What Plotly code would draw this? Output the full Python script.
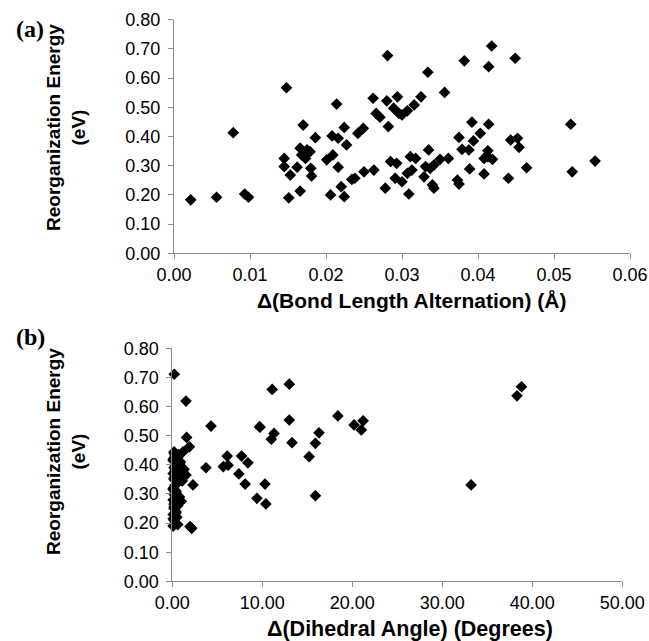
import plotly.graph_objects as go

# Panel (a): change in bond length alternation (Å) vs reorganization energy (eV)
bla_x = [0.0022, 0.0056, 0.0078, 0.0093, 0.0098, 0.0148, 0.0145, 0.0145, 0.0153, 0.0151,
         0.0162, 0.0166, 0.0166, 0.0175, 0.0179, 0.0168, 0.0173, 0.0170, 0.0180, 0.0181,
         0.0186, 0.0201, 0.0209, 0.0208, 0.0216, 0.0214, 0.0224, 0.0227, 0.0216, 0.0206,
         0.0220, 0.0224, 0.0234, 0.0238, 0.0242, 0.0249, 0.0250, 0.0263, 0.0262, 0.0266,
         0.0271, 0.0278, 0.0281, 0.0280, 0.0282, 0.0285, 0.0293, 0.0289, 0.0294, 0.0296,
         0.0300, 0.0307, 0.0291, 0.0300, 0.0309, 0.0307, 0.0313, 0.0311, 0.0318, 0.0316,
         0.0325, 0.0334, 0.0335, 0.0331, 0.0337, 0.0342, 0.0329, 0.0340, 0.0342, 0.0350,
         0.0361, 0.0356, 0.0382, 0.0418, 0.0414, 0.0449, 0.0392, 0.0414, 0.0522, 0.0375,
         0.0394, 0.0403, 0.0379, 0.0388, 0.0413, 0.0408, 0.0419, 0.0413, 0.0443, 0.0452,
         0.0454, 0.0373, 0.0375, 0.0389, 0.0408, 0.0440, 0.0464, 0.0524, 0.0554]
bla_y = [0.183, 0.192, 0.413, 0.203, 0.192, 0.567, 0.325, 0.297, 0.268, 0.190,
         0.295, 0.213, 0.360, 0.354, 0.348, 0.337, 0.325, 0.439, 0.291, 0.265,
         0.396, 0.320, 0.337, 0.402, 0.394, 0.511, 0.431, 0.371, 0.295, 0.200,
         0.228, 0.194, 0.253, 0.257, 0.411, 0.428, 0.279, 0.285, 0.531, 0.479,
         0.466, 0.223, 0.677, 0.522, 0.434, 0.314, 0.308, 0.497, 0.536, 0.479,
         0.474, 0.488, 0.257, 0.245, 0.203, 0.274, 0.285, 0.331, 0.325, 0.508,
         0.536, 0.620, 0.354, 0.297, 0.291, 0.302, 0.262, 0.234, 0.223, 0.322,
         0.325, 0.551, 0.659, 0.710, 0.639, 0.668, 0.449, 0.442, 0.442, 0.397,
         0.385, 0.411, 0.356, 0.354, 0.351, 0.325, 0.322, 0.331, 0.388, 0.394,
         0.363, 0.251, 0.237, 0.289, 0.272, 0.257, 0.293, 0.279, 0.316]

# Panel (b): change in dihedral angle (degrees) vs reorganization energy (eV)
dih_x = [0.22, 1.52, 1.59, 1.90, 1.20, 1.52, 2.30, 1.97, 2.16, 4.30,
         3.74, 6.10, 5.67, 6.20, 7.70, 8.40, 7.40, 8.10, 9.40, 9.70,
         13.0, 11.1, 13.0, 9.74, 11.3, 11.0, 13.3, 18.4, 21.2, 20.2,
         21.0, 16.3, 15.9, 15.2, 10.3, 10.4, 15.9, 33.2, 38.8, 38.3,
         0.10, 0.30, 0.20, 0.50, 0.10, 0.40, 0.20, 0.60, 0.30, 0.10,
         0.80, 0.20, 0.40, 0.10, 0.30, 0.50, 0.20, 0.70, 0.10, 0.30,
         0.20, 0.40, 0.90, 0.10, 0.30, 0.20, 0.60, 0.10, 0.40, 0.20,
         1.00, 0.30, 0.10, 0.50, 0.20, 1.20, 0.30, 0.10, 0.70, 0.20,
         1.10, 0.40, 0.80, 0.20, 1.30, 0.60]
dih_y = [0.711, 0.619, 0.494, 0.462, 0.445, 0.365, 0.331, 0.188, 0.182, 0.533,
         0.390, 0.430, 0.394, 0.399, 0.430, 0.407, 0.369, 0.334, 0.285, 0.531,
         0.677, 0.659, 0.554, 0.529, 0.508, 0.488, 0.476, 0.568, 0.551, 0.537,
         0.520, 0.510, 0.474, 0.428, 0.334, 0.266, 0.294, 0.331, 0.668, 0.637,
         0.190, 0.200, 0.210, 0.220, 0.230, 0.240, 0.250, 0.260, 0.270, 0.280,
         0.290, 0.300, 0.310, 0.320, 0.330, 0.340, 0.350, 0.360, 0.370, 0.380,
         0.390, 0.400, 0.410, 0.420, 0.430, 0.440, 0.195, 0.215, 0.235, 0.255,
         0.275, 0.295, 0.315, 0.335, 0.355, 0.375, 0.395, 0.415, 0.435, 0.445,
         0.345, 0.305, 0.405, 0.265, 0.385, 0.425]

y_ticks = [0.0, 0.1, 0.2, 0.3, 0.4, 0.5, 0.6, 0.7, 0.8]
xa_ticks = [0.0, 0.01, 0.02, 0.03, 0.04, 0.05, 0.06]
xb_ticks = [0, 10, 20, 30, 40, 50]

W, H = 649, 641


def px(x):
    return x / W


def py(y):
    return 1 - y / H


FONT = "Liberation Sans, Arial, sans-serif"
AXC = "#8c8c8c"

fig = go.Figure()
marker = dict(symbol="diamond", size=9, color="black", line=dict(width=0))
fig.add_trace(go.Scatter(x=bla_x, y=bla_y, mode="markers", marker=marker,
                         xaxis="x", yaxis="y", showlegend=False, cliponaxis=False))
fig.add_trace(go.Scatter(x=dih_x, y=dih_y, mode="markers", marker=marker,
                         xaxis="x2", yaxis="y2", showlegend=False, cliponaxis=False))

common = dict(showgrid=False, zeroline=False, showline=True, linecolor=AXC, linewidth=1,
              ticks="outside", ticklen=5, tickcolor=AXC, tickwidth=1, automargin=False,
              tickfont=dict(family=FONT, size=18, color="black"))

fig.update_layout(
    width=W, height=H, paper_bgcolor="white", plot_bgcolor="white",
    margin=dict(l=0, r=0, t=0, b=0, autoexpand=False),
    xaxis=dict(domain=[px(174), px(630)], range=[0, 0.06], tickvals=xa_ticks,
               tickformat=".2f", anchor="y", **common),
    yaxis=dict(domain=[py(253.3), py(19.7)], range=[0, 0.8], tickvals=y_ticks,
               tickformat=".2f", anchor="x", ticklabelstandoff=4, **common),
    xaxis2=dict(domain=[px(172.3), px(622.3)], range=[0, 50], tickvals=xb_ticks,
                tickformat=".2f", anchor="y2", **common),
    yaxis2=dict(domain=[py(581.4), py(348.3)], range=[0, 0.8], tickvals=y_ticks,
                tickformat=".2f", anchor="x2", ticklabelstandoff=4, **common),
)

title_font = dict(family=FONT, size=19, color="black")
xa_font = dict(family=FONT, size=21, color="black")
xb_font = dict(family=FONT, size=21.5, color="black")
label_font = dict(family="Liberation Serif, Times New Roman, serif", size=24, color="black")
anns = [
    dict(text="<b>(a)</b>", x=px(30), y=py(29), font=label_font),
    dict(text="<b>(b)</b>", x=px(30), y=py(337), font=label_font),
    dict(text="<b>Reorganization Energy<br>(eV)</b>", x=px(66), y=py(128),
         textangle=-90, font=title_font),
    dict(text="<b>Reorganization Energy<br>(eV)</b>", x=px(66), y=py(452),
         textangle=-90, font=title_font),
    dict(text="<b>Δ(Bond Length Alternation) (Å)</b>", x=px(412), y=py(300),
         font=xa_font),
    dict(text="<b>Δ(Dihedral Angle) (Degrees)</b>", x=px(410), y=py(629),
         font=xb_font),
]
for a in anns:
    a.update(xref="paper", yref="paper", showarrow=False, xanchor="center", yanchor="middle")
    fig.add_annotation(**a)

# remove the browser's default 8px body margin so the figure fills the window exactly
fig.write_html("out.html",
               config={"displayModeBar": False},
               post_script="document.body.style.margin='0';"
                           "document.body.style.overflow='hidden';")
